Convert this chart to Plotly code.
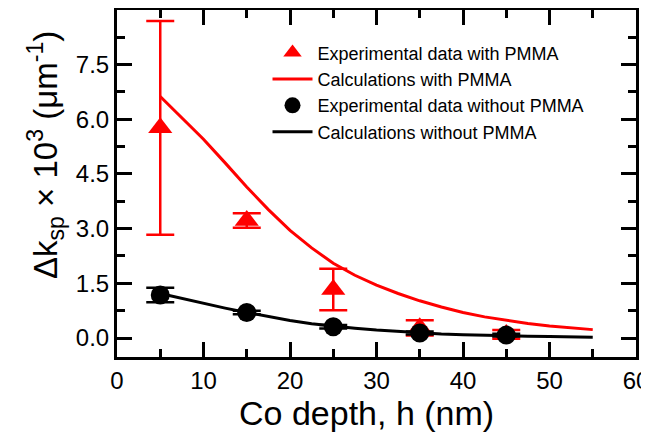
import plotly.graph_objects as go

# Experimental data with PMMA
exp_pmma_x = [5, 15, 25, 35, 45]
exp_pmma_y = [5.76, 3.22, 1.33, 0.28, 0.10]
exp_pmma_err = [2.93, 0.20, 0.57, 0.21, 0.12]

# Experimental data without PMMA
exp_nopmma_x = [5, 15, 25, 35, 45]
exp_nopmma_y = [1.18, 0.70, 0.31, 0.14, 0.08]
exp_nopmma_err = [0.20, 0.05, 0.05, 0.04, 0.04]

# Calculations
calc_x = [5, 7.5, 10, 12.5, 15, 17.5, 20, 22.5, 25, 27.5, 30, 32.5, 35,
          37.5, 40, 42.5, 45, 47.5, 50, 52.5, 55]
calc_pmma_y = [6.62, 6.04, 5.45, 4.80, 4.14, 3.52, 2.95, 2.47, 2.05, 1.72,
               1.45, 1.22, 1.02, 0.85, 0.70, 0.58, 0.48, 0.40, 0.33, 0.27, 0.23]
calc_nopmma_y = [1.22, 1.08, 0.95, 0.82, 0.70, 0.58, 0.48, 0.39, 0.32, 0.27,
                 0.22, 0.18, 0.14, 0.11, 0.09, 0.07, 0.06, 0.05, 0.04, 0.03, 0.02]

y_title = "Δk<sub>sp</sub> × 10<sup>3</sup> (μm<sup>-1</sup>)"
x_title = "Co depth, h (nm)"

RED = "#ff0000"
BLACK = "#000000"
FONT = "Liberation Sans, Arial, sans-serif"

fig = go.Figure()
fig.add_trace(go.Scatter(
    x=exp_pmma_x, y=exp_pmma_y, mode="markers",
    name="Experimental data with PMMA",
    marker=dict(symbol="triangle-up", size=21, color=RED),
    error_y=dict(type="data", array=exp_pmma_err, visible=True,
                 color=RED, thickness=2.5, width=14),
))
fig.add_trace(go.Scatter(
    x=calc_x, y=calc_pmma_y, mode="lines",
    name="Calculations with PMMA",
    line=dict(color=RED, width=3),
))
fig.add_trace(go.Scatter(
    x=exp_nopmma_x, y=exp_nopmma_y, mode="markers",
    name="Experimental data without PMMA",
    marker=dict(symbol="circle", size=19, color=BLACK),
    error_y=dict(type="data", array=exp_nopmma_err, visible=True,
                 color=BLACK, thickness=2.5, width=14),
))
fig.add_trace(go.Scatter(
    x=calc_x, y=calc_nopmma_y, mode="lines",
    name="Calculations without PMMA",
    line=dict(color=BLACK, width=3),
))

axis_common = dict(
    showline=True, linecolor="black", linewidth=3, mirror="allticks",
    ticks="inside", ticklen=15, tickwidth=2.5, tickcolor="black",
    showgrid=False, zeroline=False, automargin=False,
    ticklabeloverflow="allow",
    tickfont=dict(family=FONT, size=24, color="black"),
)

# page body has an 8px margin, so the figure is sized/placed to compensate
fig.update_layout(
    width=641, height=429,
    margin=dict(l=109, r=13, t=2, b=80),
    paper_bgcolor="white", plot_bgcolor="white",
    font=dict(family=FONT, color="black"),
    showlegend=True,
    legend=dict(
        x=0.29, y=0.93, xanchor="left", yanchor="top",
        bgcolor="rgba(0,0,0,0)", borderwidth=0,
        font=dict(family=FONT, size=18, color="black"),
        itemwidth=40, tracegroupgap=0,
    ),
    xaxis=dict(
        range=[0, 60], dtick=10, tick0=0,
        minor=dict(dtick=5, ticks="inside", ticklen=8, tickwidth=2.5, tickcolor="black"),
        **axis_common,
    ),
    yaxis=dict(
        range=[-0.52, 8.99], dtick=1.5, tick0=0, tickformat=".1f",
        minor=dict(dtick=0.75, tick0=0, ticks="inside", ticklen=8, tickwidth=2.5, tickcolor="black"),
        **axis_common,
    ),
    annotations=[
        dict(
            text=y_title, textangle=-90, showarrow=False,
            xref="paper", yref="paper", x=0, y=0.582,
            xanchor="center", yanchor="middle", xshift=-72,
            font=dict(family=FONT, size=33, color="black"),
        ),
        dict(
            text=x_title, showarrow=False,
            xref="paper", yref="paper", x=0.5, y=0,
            xanchor="center", yanchor="middle", xshift=-10, yshift=-56,
            font=dict(family=FONT, size=34, color="black"),
        ),
    ],
)

fig.write_html("out.html")
